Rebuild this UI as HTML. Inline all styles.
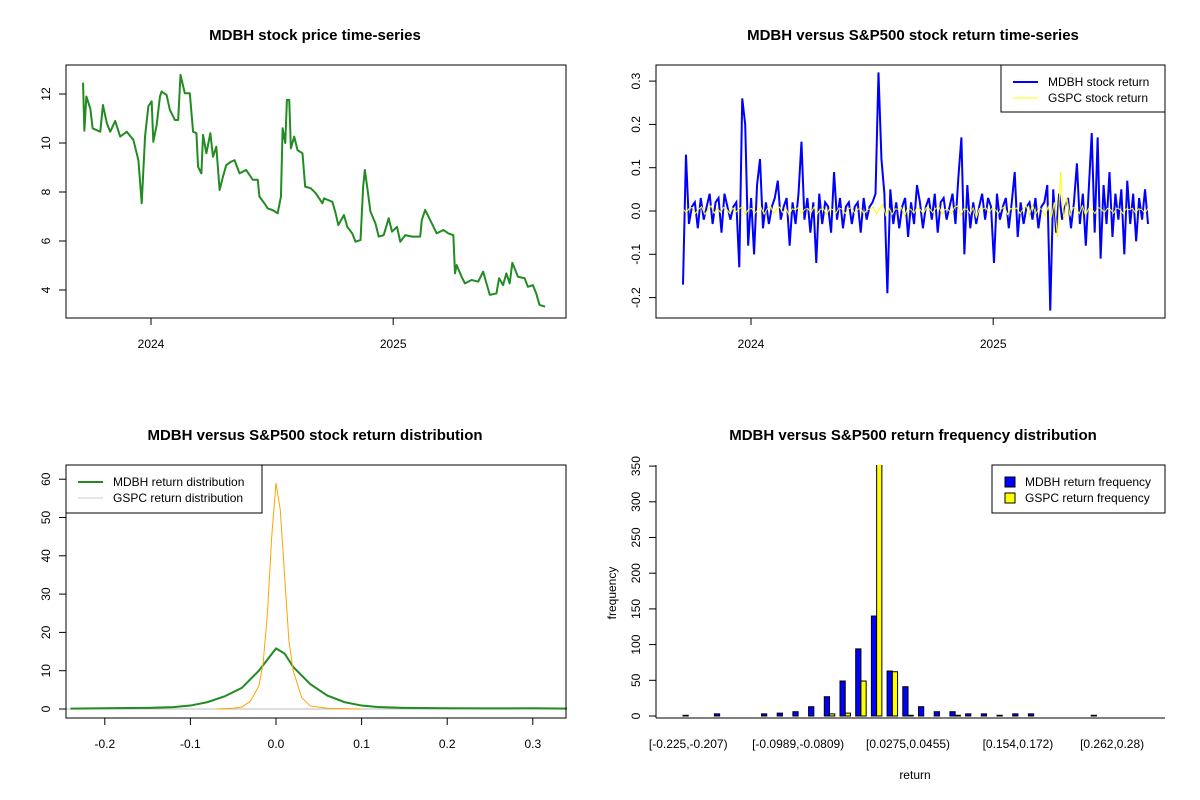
<!DOCTYPE html>
<html><head><meta charset="utf-8"><style>
body{margin:0;background:#fff}
svg{display:block;font-family:"Liberation Sans",Arial,sans-serif}
</style></head><body>
<svg id="c" width="1200" height="800" xmlns="http://www.w3.org/2000/svg"></svg>
<script>
// Panel 1: price (day = days since 2024-01-01)
const priceDays=[-102.5,-100.5,-97.5,-91.5,-88,-76.5,-72.5,-66.5,-61.5,-54,-46.5,-36.5,-26.5,-19,-14,-9,-4,1,3.5,8.5,13.5,16,23.5,28.5,36,41,44.5,51,58.5,63.5,68.5,71,76,78.5,83.5,89.5,93.5,98.5,103.5,108.5,113.5,121,126,133.5,143.5,153.5,161,163.5,171,176,183.5,191,196,198.5,202.5,205,208.5,211,216,221,228.5,232.5,241,248.5,258.5,261,273.5,278.5,282.5,291,296,303.5,308.5,316,320,322.5,326,331,338.5,343.5,351,358.5,363.5,371,376,383.5,393.5,406,408.5,413.5,421,431,441,448.5,456,458.5,461,468.5,473.5,483.5,493.5,501,506,511,521,525,531,536,541,545,553.5,563.5,568.5,576,581,586,594.5];
const priceVals=[12.46,10.5,11.9,11.4,10.6,10.46,11.55,10.8,10.46,10.9,10.26,10.46,10.12,9.3,7.54,10.26,11.5,11.7,10.05,10.73,11.9,12.1,11.96,11.35,10.94,10.94,12.78,12.03,12.03,10.46,10.4,9.03,8.76,10.33,9.58,10.4,9.44,9.85,8.08,8.62,9.1,9.24,9.3,8.76,8.9,8.5,8.5,7.81,7.54,7.33,7.26,7.13,7.81,10.6,10,11.76,11.76,9.78,10.26,9.71,9.58,8.22,8.15,7.95,7.54,7.74,7.6,7.13,6.65,7.06,6.58,6.31,5.97,6.04,8.22,8.9,8.22,7.2,6.72,6.18,6.24,6.93,6.38,6.58,5.97,6.24,6.18,6.18,6.86,7.27,6.86,6.31,6.45,6.31,6.24,4.68,5.02,4.54,4.27,4.41,4.34,4.75,4.27,3.8,3.86,4.48,4.2,4.68,4.27,5.11,4.54,4.48,4.13,4.2,3.86,3.39,3.32];
const priceTicks=[4,6,8,10,12];
const yearTicks=[2024,2025];
// Panel 2: returns
const mdbhRet=[-0.17,0.13,-0.03,0.01,0.02,-0.04,0.03,-0.02,0.01,0.04,-0.03,0.02,0.03,-0.05,0.04,0.01,-0.02,0.01,0.02,-0.13,0.26,0.2,-0.08,0.03,-0.1,0.06,0.12,-0.04,0.02,-0.03,0.01,0.03,0.07,-0.02,0.01,0.03,-0.08,0.02,-0.03,0.04,0.16,-0.02,0.03,-0.05,0.02,-0.12,0.04,-0.03,0.02,0.01,-0.05,0.09,-0.02,0.03,-0.04,0.01,0.02,-0.03,0.01,0.02,-0.05,0.03,-0.02,0.01,0.02,0.04,0.32,0.12,0.04,-0.19,0.05,-0.03,0.02,-0.04,0.01,0.03,-0.06,0.02,-0.03,0.06,0.02,-0.04,0.01,0.03,-0.02,0.04,-0.05,0.02,0.03,-0.02,0.01,0.04,-0.03,0.08,0.17,-0.1,0.06,-0.04,0.02,-0.03,0.01,0.04,-0.02,0.03,0.01,-0.12,0.04,-0.02,0.01,0.03,-0.04,0.02,0.09,-0.06,0.02,-0.03,0.01,0.02,-0.02,0.03,-0.04,0.01,0.02,0.06,-0.23,0.05,-0.05,0.04,-0.02,0.01,0.03,-0.04,0.02,0.11,-0.03,0.04,-0.08,0.05,0.18,-0.05,0.17,-0.11,0.06,-0.03,0.09,-0.06,0.04,-0.02,0.05,-0.1,0.07,-0.03,0.04,-0.07,0.03,-0.02,0.05,-0.03];
const gspcRet=[0.005,-0.004,0.006,0.008,-0.006,0.004,0.01,-0.008,0.003,0.012,-0.005,0.006,-0.003,0.008,0.004,-0.006,0.007,-0.002,0.005,0.01,-0.008,0.004,0.006,-0.005,0.003,0.008,-0.007,0.005,0.012,-0.006,0.004,0.009,-0.004,0.006,-0.01,0.005,0.003,0.008,-0.006,0.004,0.006,-0.004,0.009,-0.007,0.004,0.005,-0.008,0.006,0.003,-0.005,0.007,0.004,-0.006,0.005,0.008,-0.005,0.004,0.006,-0.007,0.003,0.005,0.009,-0.006,0.005,0.015,-0.01,0.006,-0.008,0.005,0.004,0.008,-0.012,0.006,0.004,-0.005,0.007,0.003,-0.006,0.008,0.005,-0.004,0.006,0.01,-0.007,0.004,0.003,-0.006,0.008,0.012,-0.01,0.005,0.004,-0.006,0.007,-0.015,0.006,0.004,0.008,-0.005,0.006,0.004,-0.006,0.005,0.01,-0.008,0.006,0.003,0.007,-0.006,0.004,0.012,-0.01,0.015,-0.008,0.006,0.004,-0.012,0.01,-0.015,0.02,-0.06,0.09,-0.02,0.03,-0.01,0.008,0.005,-0.006,0.012,-0.01,0.006,0.004,-0.006,0.008,0.005,-0.004,0.006,0.003,-0.005,0.007,0.004,-0.006,0.005,0.003,0.006,-0.004,0.005,0.003,-0.005,0.006];
const retTicks=[-0.2,-0.1,0.0,0.1,0.2,0.3];
// Panel 3: densities
const mdbhDensX=[-0.24,-0.2,-0.15,-0.12,-0.1,-0.08,-0.06,-0.04,-0.02,0,0.01,0.02,0.04,0.06,0.08,0.1,0.12,0.15,0.2,0.25,0.3,0.34];
const mdbhDensY=[0.1,0.2,0.3,0.5,0.9,1.8,3.3,5.5,10,15.8,14.5,11,6.5,3.5,1.8,0.9,0.5,0.3,0.2,0.15,0.2,0.1];
const gspcDensX=[-0.07,-0.05,-0.04,-0.03,-0.02,-0.015,-0.01,-0.005,0,0.005,0.01,0.015,0.02,0.03,0.04,0.06,0.1];
const gspcDensY=[0,0.2,0.5,2,6,12,25,45,59,52,35,18,10,3,0.8,0.2,0];
const densYTicks=[0,10,20,30,40,50,60];
const densXTicks=[-0.2,-0.1,0.0,0.1,0.2,0.3];
// Panel 4: histogram
const binLabels=["[-0.225,-0.207)","[-0.0989,-0.0809)","[0.0275,0.0455)","[0.154,0.172)","[0.262,0.28)"];
const binLabelIdx=[0,7,14,21,27];
const mdbhFreq=[1,0,3,0,0,3,4,6,13,27,49,94,140,63,41,13,6,6,3,3,1,3,3,0,0,0,1,0,0,0];
const gspcFreq=[0,0,0,0,0,0,0,0,0,3,4,49,500,62,1,0,0,1,0,0,0,0,0,0,0,0,0,0,0,0];
const freqTicks=[0,50,100,150,200,250,300,350];

const svg=document.getElementById('c');const NS='http://www.w3.org/2000/svg';
function el(t,a,p){const e=document.createElementNS(NS,t);for(const k in a)e.setAttribute(k,a[k]);(p||svg).appendChild(e);return e;}
function txt(x,y,s,o){const e=el('text',Object.assign({x:x,y:y,'font-size':12,'text-anchor':'middle',fill:'#000'},o||{}));e.textContent=s;return e;}
function title(x,y,s){const t=txt(x,y,s,{'font-size':15,'font-weight':'bold'});}
function box(x0,y0,x1,y1){const r=el('rect',{x:x0,y:y0,width:x1-x0,height:y1-y0,fill:'none',stroke:'#000'});}
function yTicks(ticks,fy,xl,fmt){ticks.forEach(v=>{const y=fy(v);el('line',{x1:xl,x2:xl-7,y1:y,y2:y,stroke:'#000'});const t=txt(xl-16,y,fmt(v),{transform:`rotate(-90 ${xl-16} ${y})`});});}

// ---- Panel 1
{const X=d=>151+d/365*242,Y=v=>290-(v-4)*24.5;
title(315,40,'MDBH stock price time-series');
const g=el('g',{});
const p=priceDays.map((d,i)=>(i?'L':'M')+X(d)+','+Y(priceVals[i])).join('');
const l=el('path',{d:p,fill:'none',stroke:'#228B22','stroke-width':2,'stroke-linejoin':'round'},g);
box(66,65,566,318);yTicks(priceTicks,Y,66,v=>String(v));
yearTicks.forEach(yr=>{const x=X((yr-2024)*365.25);el('line',{x1:x,x2:x,y1:318,y2:325,stroke:'#000'});const t=txt(x,348,String(yr));});}

// ---- Panel 2
{const X0=683,X1=1148,X=i=>X0+i*(X1-X0)/(mdbhRet.length-1),Y=v=>211-v*433;
title(913,40,'MDBH versus S&P500 stock return time-series');
const pm=mdbhRet.map((v,i)=>(i?'L':'M')+X(i)+','+Y(v)).join('');
const a=el('path',{d:pm,fill:'none',stroke:'#0000FF','stroke-width':2});
const Xg=i=>X0+i*(X1-X0)/(gspcRet.length-1);
const pg=gspcRet.map((v,i)=>(i?'L':'M')+Xg(i)+','+Y(v)).join('');
const b=el('path',{d:pg,fill:'none',stroke:'#FFFF00','stroke-width':1});
box(656,65,1165,318);yTicks(retTicks,Y,656,v=>v.toFixed(1));
const DX=d=>751+d/365*242;
yearTicks.forEach(yr=>{const x=DX((yr-2024)*365.25);el('line',{x1:x,x2:x,y1:318,y2:325,stroke:'#000'});const t=txt(x,348,String(yr));});
const lg=el('g',{});
el('rect',{x:1001,y:65,width:164,height:47,fill:'#fff',stroke:'#000'},lg);
el('line',{x1:1013,x2:1038,y1:82,y2:82,stroke:'#0000FF','stroke-width':2},lg);
el('line',{x1:1013,x2:1038,y1:98,y2:98,stroke:'#FFFF00','stroke-width':1},lg);
txt(1048,86,'MDBH stock return',{'text-anchor':'start'});txt(1048,102,'GSPC stock return',{'text-anchor':'start'});}

// ---- Panel 3
{const X=v=>276+v*856,Y=v=>709-v*3.83;
title(315,440,'MDBH versus S&P500 stock return distribution');
el('line',{x1:66,x2:566,y1:709,y2:709,stroke:'#bbb'});
const pm=mdbhDensX.map((x,i)=>(i?'L':'M')+X(x)+','+Y(mdbhDensY[i])).join('');
const a=el('path',{d:pm,fill:'none',stroke:'#228B22','stroke-width':2});
const pg=gspcDensX.map((x,i)=>(i?'L':'M')+X(x)+','+Y(gspcDensY[i])).join('');
const b=el('path',{d:pg,fill:'none',stroke:'#FFA500','stroke-width':1});
box(66,465,566,718);yTicks(densYTicks,Y,66,v=>String(v));
densXTicks.forEach(v=>{const x=X(v);el('line',{x1:x,x2:x,y1:718,y2:725,stroke:'#000'});const t=txt(x,748,v===0?'0.0':String(v));});
const lg=el('g',{});
el('rect',{x:66,y:465,width:196,height:48,fill:'#fff',stroke:'#000'},lg);
el('line',{x1:78,x2:103,y1:482,y2:482,stroke:'#228B22','stroke-width':2},lg);
el('line',{x1:78,x2:103,y1:498,y2:498,stroke:'#ccc','stroke-width':1},lg);
txt(113,486,'MDBH return distribution',{'text-anchor':'start'});txt(113,502,'GSPC return distribution',{'text-anchor':'start'});}

// ---- Panel 4
{const Y=v=>716-v*0.714,gw=15.7,bw=gw/3,x0=683;
title(913,440,'MDBH versus S&P500 return frequency distribution');
const cg=el('g',{});const clip=el('clipPath',{id:'cp'});el('rect',{x:656,y:465,width:509,height:253},clip);
cg.setAttribute('clip-path','url(#cp)');
mdbhFreq.forEach((v,i)=>{const x=x0+i*gw;const r=el('rect',{x:x,y:Y(v),width:bw,height:716-Y(v),fill:'#0000FF',stroke:'#000'},cg);
const w=gspcFreq[i];const r2=el('rect',{x:x+bw,y:Y(w),width:bw,height:716-Y(w),fill:'#FFFF00',stroke:'#000'},cg);});
el('line',{x1:656,x2:1165,y1:718,y2:718,stroke:'#000'});
el('line',{x1:656,x2:656,y1:465,y2:718,stroke:'#000'});
yTicks(freqTicks,Y,656,v=>String(v));
binLabels.forEach((s,k)=>{const t=txt(x0+binLabelIdx[k]*gw+bw,748,s);});
const xt=txt(915,779,'return');
const yt=txt(616,593,'frequency',{transform:'rotate(-90 616 593)'});
const lg=el('g',{});
el('rect',{x:992,y:465,width:173,height:48,fill:'#fff',stroke:'#000'},lg);
el('rect',{x:1005,y:477,width:10,height:10,fill:'#0000FF',stroke:'#000'},lg);
el('rect',{x:1005,y:493,width:10,height:10,fill:'#FFFF00',stroke:'#000'},lg);
txt(1025,486,'MDBH return frequency',{'text-anchor':'start'});txt(1025,502,'GSPC return frequency',{'text-anchor':'start'});}
</script>
</body></html>
